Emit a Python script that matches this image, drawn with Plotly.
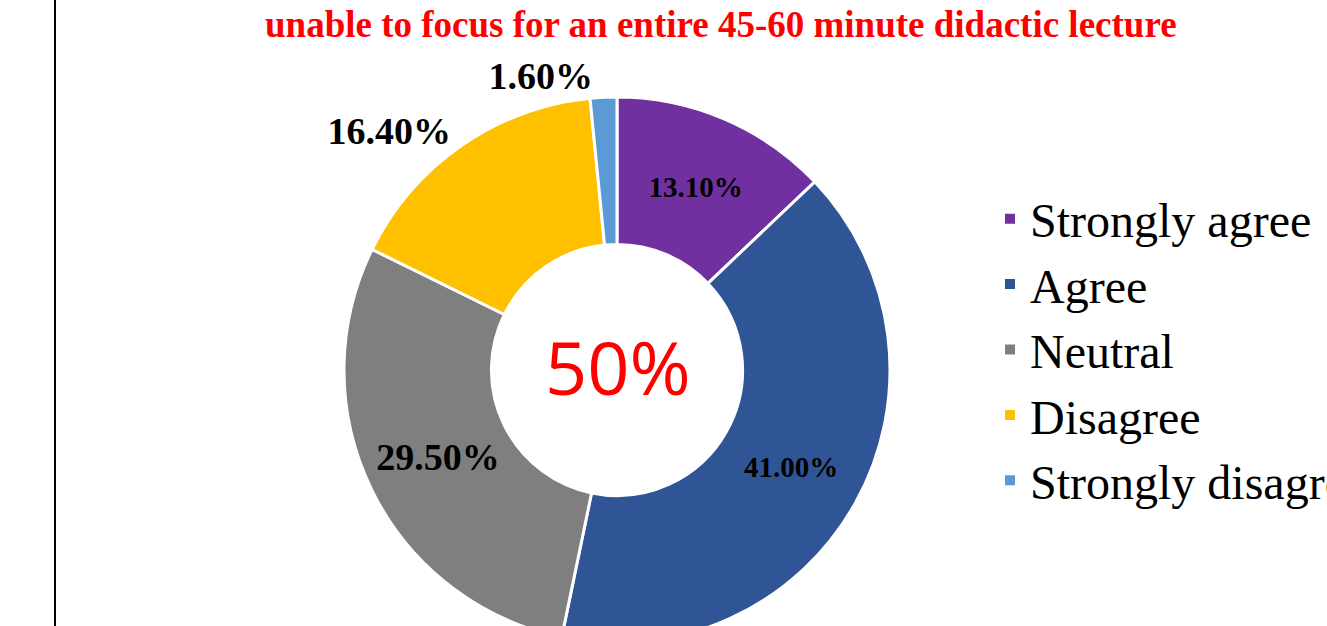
import plotly.graph_objects as go

categories = ["Strongly agree", "Agree", "Neutral", "Disagree", "Strongly disagree"]
values = [13.1, 41.0, 29.5, 16.4, 1.6]
label_text = ["13.10%", "41.00%", "29.50%", "16.40%", "1.60%"]
colors = ["#7030A0", "#2F5597", "#7F7F7F", "#FFC000", "#5B9BD5"]
text_pos = ["inside", "inside", "inside", "outside", "outside"]
text_size = [29, 29, 38, 38, 38]

W, H = 1327, 700
cx, cy, R = 617, 370, 273  # pixel geometry of the donut

fig = go.Figure(go.Pie(
    labels=categories,
    values=values,
    text=label_text,
    texttemplate="%{text}",
    textposition=text_pos,
    insidetextorientation="horizontal",
    textfont=dict(family="Liberation Serif", size=text_size, color="black", weight="bold"),
    marker=dict(colors=colors, line=dict(color="white", width=3)),
    hole=0.46,
    sort=False,
    direction="clockwise",
    rotation=0,
    domain=dict(x=[(cx - R) / W, (cx + R) / W], y=[(H - cy - R) / H, (H - cy + R) / H]),
))

fig.add_annotation(
    x=(cx + 1) / W, y=(H - 367) / H, xref="paper", yref="paper",
    text="50%", showarrow=False, yanchor="middle",
    font=dict(family="Open Sans", size=74, color="#FF0000"),
)
fig.add_annotation(
    x=721 / W, y=(H - 25) / H, xref="paper", yref="paper",
    text="<b>unable to focus for an entire 45-60 minute didactic lecture</b>",
    showarrow=False, yanchor="middle",
    font=dict(family="Liberation Serif", size=37, color="#FF0000"),
)
fig.add_shape(type="line", xref="paper", yref="paper",
              x0=55 / W, x1=55 / W, y0=0, y1=1,
              line=dict(color="black", width=2))

fig.update_layout(
    width=W, height=H,
    margin=dict(l=0, r=0, t=0, b=0, autoexpand=False),
    paper_bgcolor="white", plot_bgcolor="white",
    showlegend=True,
    legend=dict(x=990 / W, y=(H - 181) / H, xanchor="left", yanchor="top",
                font=dict(family="Liberation Serif", size=48, color="black"),
                itemsizing="constant", tracegroupgap=0),
)

clip_js = (
    "document.body.style.margin='0';"
    "var gd=document.getElementById('{plot_id}');"
    "gd.style.overflow='hidden';gd.style.width='1327px';gd.style.height='626px';"
)
fig.write_html("out.html", post_script=clip_js, config={"displayModeBar": False})
